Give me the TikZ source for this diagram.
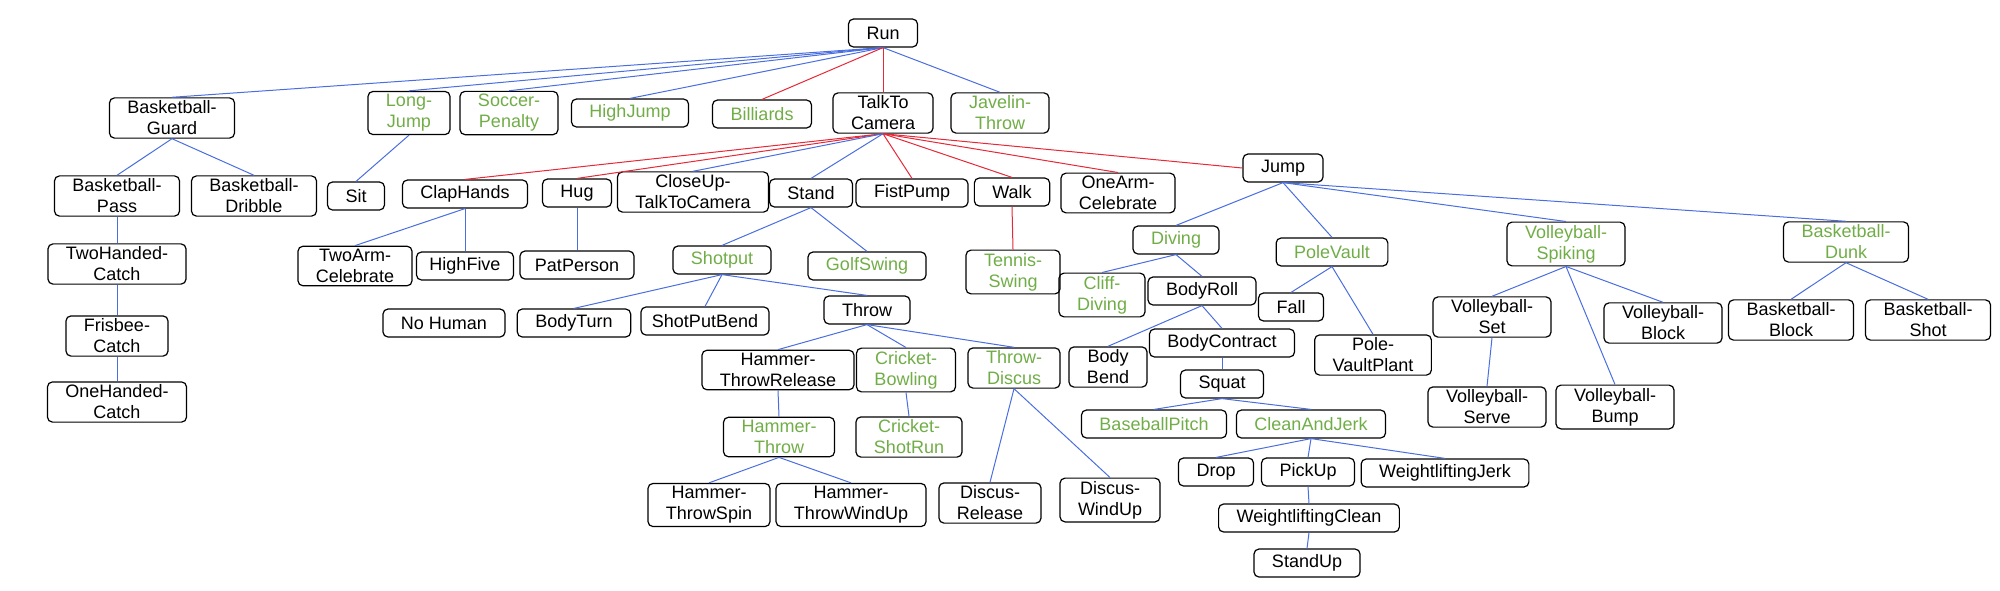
\documentclass[tikz,border=0pt]{standalone}
\usepackage{fontspec}
\setmainfont{Liberation Sans}
\usepackage{tikz}
\usetikzlibrary{positioning}
\definecolor{edgeblue}{RGB}{74,110,224}
\definecolor{edgered}{RGB}{230,40,55}
\definecolor{sportgreen}{RGB}{112,173,71}
\tikzset{
  act/.style={draw=black, line width=0.6pt, rounded corners=2.5pt, align=center,
    font=\fontsize{9}{10.5}\selectfont, inner xsep=9pt, inner ysep=1.5pt,
    minimum height=14pt},
  sport/.style={act, text=sportgreen},
  bl/.style={edgeblue, line width=0.5pt},
  rd/.style={edgered, line width=0.5pt}
}
\begin{document}
\begin{tikzpicture}[x=0.5pt, y=-0.5pt]
        \useasboundingbox (0,0) rectangle (2000,590);

        % Root and first level
        \node[act] (run) at (883,33) {Run};
        \node[act] (bbguard) at (172,118) {Basketball-\\Guard};
        \node[sport] (longjump) at (409,113) {Long-\\Jump};
        \node[sport] (soccer) at (509,113) {Soccer-\\Penalty};
        \node[sport] (highjump) at (630,113) {HighJump};
        \node[sport] (billiards) at (762,114) {Billiards};
        \node[act] (talk) at (883,113) {TalkTo\\Camera};
        \node[sport] (javelin) at (1000,113) {Javelin-\\Throw};

        % Second level
        \node[act] (bbpass) at (117,196) {Basketball-\\Pass};
        \node[act] (bbdribble) at (254,196) {Basketball-\\Dribble};
        \node[act] (sit) at (356,196) {Sit};
        \node[act] (clap) at (465,194) {ClapHands};
        \node[act] (hug) at (577,193) {Hug};
        \node[act] (closeup) at (693,192) {CloseUp-\\TalkToCamera};
        \node[act] (stand) at (811,193) {Stand};
        \node[act] (fist) at (912,193) {FistPump};
        \node[act] (walk) at (1012,192) {Walk};
        \node[act] (onearm) at (1118,193) {OneArm-\\Celebrate};
        \node[act] (jump) at (1283,168) {Jump};

        % Third level
        \node[act] (twohand) at (117,264) {TwoHanded-\\Catch};
        \node[act] (twoarm) at (355,266) {TwoArm-\\Celebrate};
        \node[act, inner xsep=6.5pt] (highfive) at (465,266) {HighFive};
        \node[act, inner xsep=7.5pt] (patperson) at (577,265) {PatPerson};
        \node[sport] (shotput) at (722,260) {Shotput};
        \node[sport] (golf) at (867,266) {GolfSwing};
        \node[sport] (tennis) at (1013,272) {Tennis-\\Swing};
        \node[sport] (diving) at (1176,240) {Diving};
        \node[sport] (polevault) at (1332,252) {PoleVault};
        \node[sport] (vbspike) at (1566,244) {Volleyball-\\Spiking};
        \node[sport] (bbdunk) at (1846,242) {Basketball-\\Dunk};

        % Fourth level
        \node[act] (frisbee) at (117,336) {Frisbee-\\Catch};
        \node[act] (nohuman) at (444,323) {No Human};
        \node[act] (bodyturn) at (574,323) {BodyTurn};
        \node[act, inner xsep=5.5pt] (shotputbend) at (705,321) {ShotPutBend};
        \node[act] (throw) at (867,310) {Throw};
        \node[sport] (cliff) at (1102,295) {Cliff-\\Diving};
        \node[act] (bodyroll) at (1202,291) {BodyRoll};
        \node[act] (fall) at (1291,307) {Fall};
        \node[act] (vaultplant) at (1373,355) {Pole-\\VaultPlant};
        \node[act] (vbset) at (1492,317) {Volleyball-\\Set};
        \node[act] (vbblock) at (1663,323) {Volleyball-\\Block};
        \node[act] (vbbump) at (1615,407) {Volleyball-\\Bump};
        \node[act] (vbserve) at (1487,407) {Volleyball-\\Serve};
        \node[act] (bbblock) at (1791,320) {Basketball-\\Block};
        \node[act] (bbshot) at (1928,320) {Basketball-\\Shot};

        % Lower levels
        \node[act] (onehand) at (117,402) {OneHanded-\\Catch};
        \node[act] (hammerrel) at (778,370) {Hammer-\\ThrowRelease};
        \node[sport] (cricketbowl) at (906,370) {Cricket-\\Bowling};
        \node[sport] (throwdiscus) at (1014,368) {Throw-\\Discus};
        \node[sport] (hammerthrow) at (779,437) {Hammer-\\Throw};
        \node[sport] (cricketrun) at (909,437) {Cricket-\\ShotRun};
        \node[act] (hammerspin) at (709,505) {Hammer-\\ThrowSpin};
        \node[act] (hammerwind) at (851,505) {Hammer-\\ThrowWindUp};
        \node[act] (discusrel) at (990,503) {Discus-\\Release};
        \node[act] (discuswind) at (1110,500) {Discus-\\WindUp};
        \node[act] (bodybend) at (1108,367) {Body\\Bend};
        \node[act] (bodycontract) at (1222,343) {BodyContract};
        \node[act] (squat) at (1222,384) {Squat};
        \node[sport] (baseball) at (1154,424) {BaseballPitch};
        \node[sport] (cleanjerk) at (1311,424) {CleanAndJerk};
        \node[act] (drop) at (1216,472) {Drop};
        \node[act] (pickup) at (1308,472) {PickUp};
        \node[act] (wljerk) at (1445,473) {WeightliftingJerk};
        \node[act] (wlclean) at (1309,518) {WeightliftingClean};
        \node[act] (standup) at (1307,563) {StandUp};

        % Connectors
        \foreach \c in {bbguard,longjump,soccer,highjump,javelin}
          \draw[bl] (run.south) -- (\c.north);
        \foreach \c in {billiards,talk}
          \draw[rd] (run.south) -- (\c.north);
        \foreach \c in {clap,hug,fist,walk,onearm}
          \draw[rd] (talk.south) -- (\c.north);
        \draw[rd] (talk.south) -- (jump.west);
        \foreach \c in {closeup,stand}
          \draw[bl] (talk.south) -- (\c.north);
        \draw[rd] (walk.south) -- (tennis.north);

        \foreach \p/\c in {bbguard/bbpass, bbguard/bbdribble, bbpass/twohand,
            twohand/frisbee, frisbee/onehand, longjump/sit,
            clap/twoarm, clap/highfive, hug/patperson,
            stand/shotput, stand/golf,
            shotput/bodyturn, shotput/shotputbend, shotput/throw,
            throw/hammerrel, throw/cricketbowl, throw/throwdiscus,
            hammerrel/hammerthrow, cricketbowl/cricketrun,
            hammerthrow/hammerspin, hammerthrow/hammerwind,
            throwdiscus/discusrel, throwdiscus/discuswind,
            jump/diving, jump/polevault, jump/vbspike, jump/bbdunk,
            diving/cliff, diving/bodyroll,
            bodyroll/bodybend, bodyroll/bodycontract, bodycontract/squat,
            squat/baseball, squat/cleanjerk,
            cleanjerk/drop, cleanjerk/pickup, cleanjerk/wljerk,
            pickup/wlclean, wlclean/standup,
            polevault/fall, polevault/vaultplant,
            vbspike/vbset, vbspike/vbbump, vbspike/vbblock, vbset/vbserve,
            bbdunk/bbblock, bbdunk/bbshot}
          \draw[bl] (\p.south) -- (\c.north);

    \end{tikzpicture}
\end{document}
